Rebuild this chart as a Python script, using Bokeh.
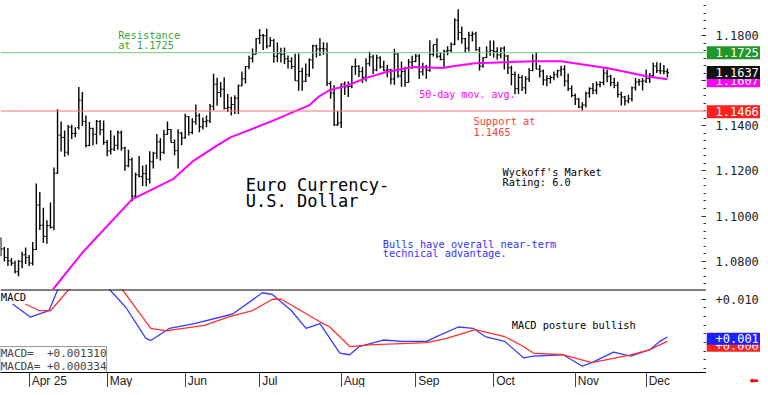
import numpy as np
import pandas as pd
from bokeh.plotting import figure
from bokeh.layouts import column, row
from bokeh.models import (Range1d, FixedTicker, Label, Span, ColumnDataSource)
from bokeh.core.properties import value
from bokeh.embed import file_html
from bokeh.resources import INLINE

# ---------------- data ----------------
trade_days = pd.bdate_range("2025-03-20", "2025-12-09")

# (open, high, low, close) per trading day
bars_mar = [(1.0900, 1.0905, 1.0823, 1.0854), (1.0854, 1.0862, 1.0798, 1.0816),
            (1.0816, 1.0858, 1.0778, 1.0801), (1.0801, 1.0814, 1.0779, 1.0791),
            (1.0791, 1.0802, 1.0745, 1.0753), (1.0753, 1.0805, 1.0733, 1.0799),
            (1.0799, 1.0841, 1.0768, 1.0828), (1.0828, 1.0860, 1.0787, 1.0816)]
bars_apr = [(1.0816, 1.0827, 1.0778, 1.0791), (1.0791, 1.0885, 1.0780, 1.0851),
            (1.0851, 1.1144, 1.0849, 1.1049), (1.1049, 1.1107, 1.0938, 1.0959),
            (1.0959, 1.1037, 1.0880, 1.0910), (1.0910, 1.0981, 1.0877, 1.0958),
            (1.0958, 1.1060, 1.0945, 1.0950), (1.0950, 1.1215, 1.0937, 1.1190),
            (1.1190, 1.1474, 1.1188, 1.1359), (1.1359, 1.1420, 1.1286, 1.1349),
            (1.1349, 1.1380, 1.1263, 1.1283), (1.1283, 1.1404, 1.1270, 1.1395),
            (1.1395, 1.1405, 1.1342, 1.1366), (1.1366, 1.1394, 1.1350, 1.1367),
            (1.1393, 1.1573, 1.1384, 1.1514), (1.1514, 1.1550, 1.1400, 1.1420),
            (1.1420, 1.1446, 1.1304, 1.1313), (1.1313, 1.1417, 1.1310, 1.1389),
            (1.1389, 1.1392, 1.1313, 1.1363), (1.1363, 1.1426, 1.1319, 1.1420),
            (1.1420, 1.1425, 1.1358, 1.1383), (1.1383, 1.1424, 1.1316, 1.1327)]
bars_may = [(1.1327, 1.1337, 1.1265, 1.1289), (1.1289, 1.1381, 1.1273, 1.1297),
            (1.1297, 1.1357, 1.1289, 1.1314), (1.1314, 1.1380, 1.1294, 1.1370),
            (1.1370, 1.1380, 1.1290, 1.1302), (1.1302, 1.1307, 1.1201, 1.1223),
            (1.1223, 1.1294, 1.1216, 1.1250), (1.1250, 1.1260, 1.1065, 1.1088),
            (1.1088, 1.1192, 1.1084, 1.1183), (1.1183, 1.1266, 1.1171, 1.1176),
            (1.1176, 1.1224, 1.1133, 1.1188), (1.1188, 1.1229, 1.1132, 1.1163),
            (1.1163, 1.1288, 1.1144, 1.1241), (1.1241, 1.1285, 1.1211, 1.1279),
            (1.1279, 1.1364, 1.1254, 1.1329), (1.1329, 1.1345, 1.1246, 1.1283),
            (1.1283, 1.1383, 1.1275, 1.1362), (1.1362, 1.1419, 1.1361, 1.1384),
            (1.1384, 1.1386, 1.1326, 1.1326), (1.1326, 1.1340, 1.1270, 1.1290),
            (1.1290, 1.1385, 1.1211, 1.1368), (1.1368, 1.1373, 1.1314, 1.1347)]
bars_jun = [(1.1347, 1.1454, 1.1343, 1.1442), (1.1442, 1.1444, 1.1357, 1.1371),
            (1.1371, 1.1434, 1.1363, 1.1418), (1.1418, 1.1495, 1.1405, 1.1445),
            (1.1445, 1.1456, 1.1372, 1.1396), (1.1396, 1.1437, 1.1384, 1.1419),
            (1.1419, 1.1446, 1.1394, 1.1422), (1.1422, 1.1497, 1.1413, 1.1487),
            (1.1487, 1.1631, 1.1470, 1.1585), (1.1585, 1.1614, 1.1489, 1.1548),
            (1.1548, 1.1595, 1.1527, 1.1563), (1.1563, 1.1616, 1.1473, 1.1478),
            (1.1478, 1.1542, 1.1462, 1.1482), (1.1482, 1.1529, 1.1446, 1.1495),
            (1.1495, 1.1536, 1.1453, 1.1523), (1.1523, 1.1584, 1.1453, 1.1578),
            (1.1578, 1.1641, 1.1576, 1.1609), (1.1609, 1.1665, 1.1588, 1.1663),
            (1.1663, 1.1711, 1.1651, 1.1700), (1.1700, 1.1744, 1.1681, 1.1718),
            (1.1718, 1.1790, 1.1718, 1.1787)]
bars_jul = [(1.1787, 1.1830, 1.1763, 1.1802), (1.1802, 1.1808, 1.1737, 1.1800),
            (1.1800, 1.1831, 1.1744, 1.1754), (1.1754, 1.1793, 1.1752, 1.1779),
            (1.1779, 1.1786, 1.1680, 1.1709), (1.1709, 1.1770, 1.1683, 1.1722),
            (1.1722, 1.1747, 1.1681, 1.1718), (1.1718, 1.1748, 1.1675, 1.1698),
            (1.1698, 1.1712, 1.1655, 1.1687), (1.1687, 1.1705, 1.1653, 1.1663),
            (1.1663, 1.1720, 1.1600, 1.1600), (1.1600, 1.1721, 1.1556, 1.1641),
            (1.1641, 1.1658, 1.1556, 1.1598), (1.1598, 1.1677, 1.1595, 1.1627),
            (1.1627, 1.1699, 1.1617, 1.1693), (1.1693, 1.1760, 1.1654, 1.1755),
            (1.1755, 1.1760, 1.1703, 1.1741), (1.1741, 1.1789, 1.1710, 1.1743),
            (1.1743, 1.1771, 1.1716, 1.1741), (1.1741, 1.1770, 1.1577, 1.1588),
            (1.1588, 1.1598, 1.1520, 1.1546), (1.1546, 1.1580, 1.1400, 1.1405),
            (1.1405, 1.1466, 1.1400, 1.1413)]
bars_aug = [(1.1413, 1.1587, 1.1391, 1.1586), (1.1586, 1.1597, 1.1537, 1.1573),
            (1.1573, 1.1597, 1.1528, 1.1575), (1.1575, 1.1667, 1.1567, 1.1663),
            (1.1663, 1.1699, 1.1627, 1.1665), (1.1665, 1.1669, 1.1617, 1.1641),
            (1.1641, 1.1663, 1.1590, 1.1616), (1.1616, 1.1700, 1.1597, 1.1676),
            (1.1676, 1.1730, 1.1665, 1.1706), (1.1706, 1.1716, 1.1630, 1.1648),
            (1.1648, 1.1716, 1.1643, 1.1702), (1.1702, 1.1709, 1.1655, 1.1662),
            (1.1662, 1.1689, 1.1642, 1.1647), (1.1647, 1.1671, 1.1616, 1.1649),
            (1.1649, 1.1654, 1.1584, 1.1608), (1.1608, 1.1742, 1.1583, 1.1719),
            (1.1719, 1.1722, 1.1614, 1.1622), (1.1622, 1.1686, 1.1574, 1.1641),
            (1.1641, 1.1662, 1.1574, 1.1593), (1.1593, 1.1697, 1.1592, 1.1683),
            (1.1683, 1.1711, 1.1652, 1.1686)]
bars_sep = [(1.1686, 1.1719, 1.1682, 1.1710), (1.1710, 1.1718, 1.1608, 1.1640),
            (1.1640, 1.1680, 1.1624, 1.1660), (1.1660, 1.1670, 1.1609, 1.1647),
            (1.1647, 1.1780, 1.1640, 1.1717), (1.1717, 1.1760, 1.1708, 1.1761),
            (1.1761, 1.1789, 1.1700, 1.1709), (1.1709, 1.1728, 1.1690, 1.1695),
            (1.1695, 1.1738, 1.1660, 1.1732), (1.1732, 1.1754, 1.1713, 1.1735),
            (1.1735, 1.1770, 1.1726, 1.1762), (1.1762, 1.1878, 1.1758, 1.1869),
            (1.1869, 1.1918, 1.1780, 1.1815), (1.1815, 1.1841, 1.1764, 1.1787),
            (1.1787, 1.1790, 1.1726, 1.1745), (1.1745, 1.1818, 1.1730, 1.1802),
            (1.1802, 1.1819, 1.1775, 1.1808), (1.1808, 1.1818, 1.1733, 1.1738),
            (1.1738, 1.1750, 1.1646, 1.1665), (1.1665, 1.1706, 1.1658, 1.1703),
            (1.1703, 1.1754, 1.1701, 1.1727), (1.1727, 1.1779, 1.1711, 1.1734)]
bars_oct = [(1.1734, 1.1779, 1.1704, 1.1730), (1.1730, 1.1749, 1.1693, 1.1715),
            (1.1715, 1.1748, 1.1700, 1.1745), (1.1745, 1.1753, 1.1650, 1.1710),
            (1.1710, 1.1715, 1.1630, 1.1658), (1.1658, 1.1667, 1.1580, 1.1628),
            (1.1628, 1.1641, 1.1540, 1.1565), (1.1565, 1.1630, 1.1541, 1.1615),
            (1.1615, 1.1625, 1.1555, 1.1569), (1.1569, 1.1620, 1.1542, 1.1608),
            (1.1608, 1.1657, 1.1595, 1.1646), (1.1646, 1.1718, 1.1642, 1.1688),
            (1.1688, 1.1728, 1.1651, 1.1652), (1.1652, 1.1670, 1.1615, 1.1643),
            (1.1643, 1.1650, 1.1580, 1.1604), (1.1604, 1.1625, 1.1576, 1.1610),
            (1.1610, 1.1624, 1.1588, 1.1615), (1.1615, 1.1641, 1.1603, 1.1627),
            (1.1627, 1.1649, 1.1614, 1.1645), (1.1645, 1.1667, 1.1621, 1.1652),
            (1.1652, 1.1669, 1.1575, 1.1599), (1.1599, 1.1632, 1.1555, 1.1565),
            (1.1565, 1.1579, 1.1527, 1.1535)]
bars_nov = [(1.1535, 1.1543, 1.1493, 1.1519), (1.1519, 1.1524, 1.1478, 1.1484),
            (1.1484, 1.1505, 1.1468, 1.1493), (1.1493, 1.1551, 1.1482, 1.1545),
            (1.1545, 1.1571, 1.1525, 1.1565), (1.1565, 1.1590, 1.1540, 1.1558),
            (1.1558, 1.1597, 1.1540, 1.1583), (1.1583, 1.1598, 1.1572, 1.1592),
            (1.1592, 1.1655, 1.1580, 1.1634), (1.1634, 1.1650, 1.1594, 1.1620),
            (1.1620, 1.1627, 1.1576, 1.1592), (1.1592, 1.1614, 1.1567, 1.1580),
            (1.1580, 1.1596, 1.1526, 1.1540), (1.1540, 1.1552, 1.1491, 1.1528),
            (1.1528, 1.1534, 1.1491, 1.1511), (1.1511, 1.1538, 1.1500, 1.1520),
            (1.1520, 1.1575, 1.1508, 1.1569), (1.1569, 1.1613, 1.1557, 1.1595),
            (1.1595, 1.1609, 1.1578, 1.1598), (1.1598, 1.1613, 1.1557, 1.1599)]
bars_dec = [(1.1599, 1.1650, 1.1590, 1.1610), (1.1610, 1.1635, 1.1590, 1.1623),
            (1.1623, 1.1680, 1.1615, 1.1665), (1.1665, 1.1682, 1.1635, 1.1645),
            (1.1645, 1.1680, 1.1630, 1.1644), (1.1644, 1.1670, 1.1629, 1.1642),
            (1.1642, 1.1655, 1.1615, 1.1637)]

# 50-day moving average, read at points (trading-day index from Apr 1, price)
ma_x = [5.5, 6.7, 15.1, 29.0, 40.7, 46.3, 52.7, 56.9, 60.2, 68.6, 76.9, 78.9, 81.7, 84.5,
        86.2, 89.5, 95.1, 100.7, 108.2, 116.6, 119.4, 125.8, 134.1, 143.0, 150.0, 155.6,
        162.9, 168.4, 174.0, 180.0]
ma_y = [1.0620, 1.0674, 1.0839, 1.1074, 1.1165, 1.1245, 1.1310, 1.1350, 1.1370, 1.1422,
        1.1478, 1.1491, 1.1530, 1.1557, 1.1565, 1.1578, 1.1613, 1.1639, 1.1661, 1.1657,
        1.1665, 1.1678, 1.1683, 1.1687, 1.1687, 1.1674, 1.1657, 1.1639, 1.1620, 1.1607]

# MACD (blue) and its average (red)
macd_x = [-4.7, 0.3, 5.6, 8.1, 15.6, 22.6, 27.3, 32.9, 34.3, 39.6, 46.6, 57.4, 65.8, 68.6,
          73.9, 78.1, 82.0, 87.6, 90.4, 93.1, 99.8, 105.4, 112.1, 114.9, 121.0, 125.2,
          128.6, 134.1, 139.4, 142.2, 150.6, 155.9, 158.7, 164.8, 169.6, 175.1, 177.9, 180.0]
macd_y = [0.0089, 0.0059, 0.0074, 0.0123, 0.0160, 0.0123, 0.0081, 0.0010, 0.0005, 0.0033,
          0.0044, 0.0066, 0.0115, 0.0111, 0.0074, 0.0033, 0.0044, -0.0024, -0.0028, -0.0009,
          0.0006, 0.0003, 0.0003, 0.0014, 0.0036, 0.0033, 0.0014, 0.0003, -0.0035, -0.0031,
          -0.0028, -0.0054, -0.0046, -0.0022, -0.0031, -0.0016, 0.0003, 0.00131]
macda_x = [-1.1, 2.8, 6.1, 11.2, 18.4, 26.2, 34.3, 38.5, 49.4, 56.1, 63.0, 68.6, 71.1, 82.0,
           84.8, 90.4, 95.9, 112.1, 117.7, 125.8, 134.1, 139.4, 142.2, 150.6, 158.7, 169.6,
           175.1, 180.0]
macda_y = [0.0089, 0.0074, 0.0074, 0.0123, 0.0145, 0.0123, 0.0033, 0.0027, 0.0040, 0.0059,
           0.0074, 0.0100, 0.0100, 0.0048, 0.0036, -0.0009, -0.0005, 0.0000, 0.0010, 0.0030,
           0.0014, -0.0009, -0.0024, -0.0028, -0.0046, -0.0028, -0.0016, 0.000334]

month_labels = ["Apr 25", "May", "Jun", "Jul", "Aug", "Sep", "Oct", "Nov", "Dec"]
price_ticks = [1.08, 1.10, 1.12, 1.14, 1.16, 1.18]
macd_ticks = [0.010]
resistance = 1.1725
support = 1.1466
last_close = 1.1637
ma_last = 1.1607
macd_last = 0.001310
macda_last = 0.000334

# ---------------- build ----------------
bars = bars_mar + bars_apr + bars_may + bars_jun + bars_jul + bars_aug + bars_sep + bars_oct + bars_nov + bars_dec
assert len(bars) == len(trade_days)
apr1 = list(trade_days).index(pd.Timestamp("2025-04-01"))
idx = np.arange(len(trade_days)) - apr1
o = np.array([b[0] for b in bars]); h = np.array([b[1] for b in bars])
l = np.array([b[2] for b in bars]); c = np.array([b[3] for b in bars])
month_starts = []
for m in range(4, 13):
    pos = [i for i, d in enumerate(trade_days) if d.month == m][0]
    month_starts.append(int(pos - apr1))

src = ColumnDataSource(dict(x=idx, o=o, h=h, l=l, c=c, xl=idx - 0.45, xr=idx + 0.45))

MONO = "DejaVu Sans Mono"
FW, SW = 706, 54          # frame width of main panels, width of the right label strip
H1, H2, H3 = 289, 83, 15  # heights: price panel, MACD panel, date strip
xr = Range1d(-8.087, 191.02)
yr1 = Range1d(1.06739, 1.19565)
yr2 = Range1d(-0.00689, 0.01225)


def base(fw, fh, x_range, y_range, **kw):
    p = figure(frame_width=fw, frame_height=fh, x_range=x_range, y_range=y_range,
               output_backend="svg", toolbar_location=None, min_border_left=0,
               min_border_right=0, min_border_top=0, min_border_bottom=0, **kw)
    p.grid.visible = False
    p.outline_line_color = None
    p.background_fill_color = "white"
    p.border_fill_color = "white"
    return p


def tick_only(ax, ticks, minor):
    ax.ticker = FixedTicker(ticks=ticks, minor_ticks=minor)
    ax.major_label_text_color = None
    ax.major_label_text_font_size = "0px"
    ax.major_label_standoff = 0
    ax.major_tick_out = 0
    ax.minor_tick_out = 0
    ax.axis_line_color = "#333333"
    ax.major_tick_line_color = "#333333"
    ax.minor_tick_line_color = "#333333"


def txt(p, x, y, s, color="black", size="10.3px", font=MONO, **kw):
    p.add_layout(Label(x=x, y=y, text=s, text_color=color, text_font=font,
                       text_font_size=size, text_baseline="middle", text_align="left", **kw))


# ---- price panel ----
p1 = base(FW, H1, xr, yr1, x_axis_location=None, y_axis_location="right")
tick_only(p1.yaxis[0], price_ticks, list(np.round(np.arange(1.06, 1.20, 0.02 / 6), 5)))
p1.yaxis[0].major_tick_in = 5
p1.yaxis[0].minor_tick_in = 3

p1.add_layout(Span(location=resistance, dimension="width", line_color="#74c874", line_width=1))
p1.add_layout(Span(location=support, dimension="width", line_color="#ff7070", line_width=1))
p1.segment(x0="x", y0="l", x1="x", y1="h", source=src, line_color="black", line_width=1.4)
p1.segment(x0="xl", y0="o", x1="x", y1="o", source=src, line_color="black", line_width=1)
p1.segment(x0="x", y0="c", x1="xr", y1="c", source=src, line_color="black", line_width=1)
p1.line(ma_x, ma_y, line_color="#ff00ff", line_width=2)

txt(p1, 25.1, 1.1802, "Resistance", "#3aa53a")
txt(p1, 25.1, 1.1760, "at 1.1725", "#3aa53a")
txt(p1, 61.1, 1.1139, "Euro Currency-", size="17px")
txt(p1, 61.1, 1.1065, "U.S. Dollar", size="17px")
txt(p1, 133.5, 1.1196, "Wyckoff's Market")
txt(p1, 133.5, 1.1152, "Rating: 6.0")
txt(p1, 99.7, 1.0878, "Bulls have overall near-term", "#3333ff")
txt(p1, 99.7, 1.0835, "technical advantage.", "#3333ff")
txt(p1, 110.0, 1.1541, "50-day mov. avg.", "#ff00ff", size="10px")
txt(p1, 125.3, 1.1420, "Support at", "#ff3b3b")
txt(p1, 125.3, 1.1374, "1.1465", "#ff3b3b")

# ---- right strip for price panel: tick labels and value boxes ----
s1 = base(SW, H1, Range1d(0, SW), yr1, x_axis_location=None, y_axis_location=None)
s1.text(x=[9] * len(price_ticks), y=price_ticks, text=[f"{t:.4f}" for t in price_ticks],
        text_font=value(MONO), text_font_size="12px", text_color="#222222",
        text_baseline="middle")
for val, ypos, col in [(resistance, resistance, "#23962a"), (ma_last, 1.1600, "#ff00ff"),
                       (last_close, last_close, "#111111"), (support, 1.1463, "#ff2020")]:
    s1.rect(x=[SW / 2], y=[ypos], width=SW, height=13, width_units="screen",
            height_units="screen", fill_color=col, line_color=None)
    s1.text(x=[9], y=[ypos], text=[f"{val:.4f}"], text_font=value(MONO),
            text_font_size="12px", text_color="white", text_baseline="middle")

# ---- MACD panel ----
p2 = base(FW, H2, xr, yr2, x_axis_location=None, y_axis_location="right")
tick_only(p2.yaxis[0], macd_ticks, [-0.006, -0.004, -0.002, 0.0, 0.002, 0.004, 0.006, 0.008, 0.010])
p2.yaxis[0].major_tick_in = 5
p2.yaxis[0].minor_tick_in = 3
p2.add_layout(Span(location=yr2.end, dimension="width", line_color="black", line_width=2))
p2.line(macd_x, macd_y, line_color="#3a3aff", line_width=1.3)
p2.line(macda_x, macda_y, line_color="#ff3030", line_width=1.3)
txt(p2, -8.0, 0.01044, "MACD", size="10.5px")
txt(p2, 136.1, 0.00414, "MACD posture bullish")
p2.add_layout(Label(x=-8.05, y=-0.0009,
                    text=f"MACD=\u00a0\u00a0{macd_last:+.6f}\nMACDA=\u00a0{macda_last:+.6f}",
                    text_font=MONO, text_font_size="11px", text_baseline="top",
                    text_align="left", text_line_height=1.0, background_fill_color="white",
                    border_line_color="#999999"))

s2 = base(SW, H2, Range1d(0, SW), yr2, x_axis_location=None, y_axis_location=None)
s2.text(x=[9], y=macd_ticks, text=[f"{t:+.3f}" for t in macd_ticks], text_font=value(MONO),
        text_font_size="12px", text_color="#222222", text_baseline="middle")
for txt_v, ypos, col in [(f"{macda_last:+.3f}", -0.0007, "#ff2020"),
                         (f"{macd_last:+.3f}", 0.00088, "#2020ff")]:
    s2.rect(x=[SW / 2], y=[ypos], width=SW, height=12, width_units="screen",
            height_units="screen", fill_color=col, line_color=None)
    s2.text(x=[9], y=[ypos], text=[txt_v], text_font=value(MONO), text_font_size="12px",
            text_color="white", text_baseline="middle")

# ---- date strip ----
p3 = base(FW, H3, xr, Range1d(0, 1), x_axis_location="above", y_axis_location=None)
xa = p3.xaxis[0]
tick_only(xa, month_starts, [])
xa.major_tick_in = 15
xa.axis_line_color = "black"
xa.major_tick_line_color = "#444444"
p3.text(x=[m + 0.7 for m in month_starts], y=[0.45] * len(month_starts), text=month_labels,
        text_font=value("Liberation Sans"), text_font_size="12px", text_color="#222222",
        text_baseline="middle")

s3 = base(SW, H3, Range1d(0, SW), Range1d(0, 1), x_axis_location=None, y_axis_location=None)
s3.text(x=[43], y=[0.5], text=["\u2B05"], text_font=value("DejaVu Sans"),
        text_font_size="11px", text_color="#ff0000", text_baseline="middle")

layout = column(row(p1, s1), row(p2, s2), row(p3, s3), spacing=0)
open("out.html", "w").write(file_html(layout, INLINE))
